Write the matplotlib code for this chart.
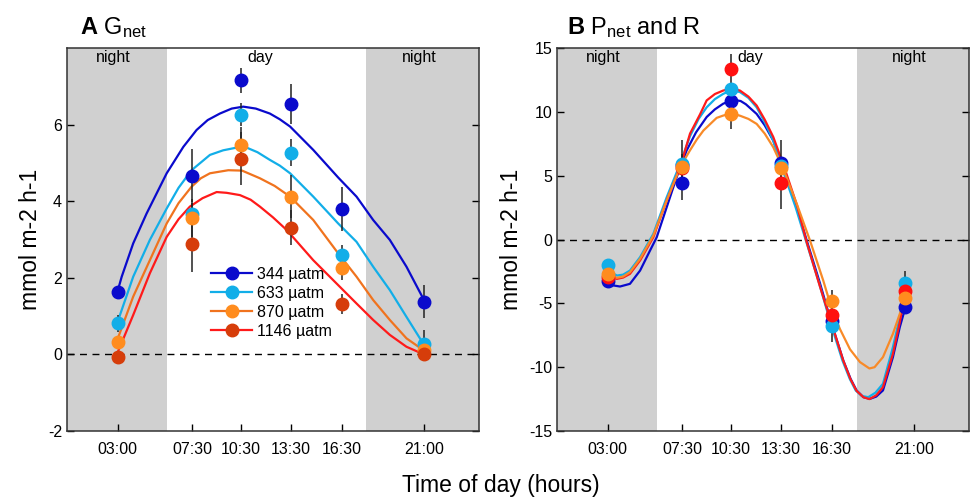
import numpy as np
import matplotlib
matplotlib.use("Agg")
import matplotlib.pyplot as plt
from matplotlib.lines import Line2D

plt.rcParams.update({
    "font.family": "Liberation Sans", "font.size": 11.5,
    "mathtext.fontset": "custom", "mathtext.rm": "Liberation Sans",
    "mathtext.bf": "Liberation Sans:bold", "mathtext.it": "Liberation Sans:italic",
    "xtick.direction": "in", "ytick.direction": "in", "axes.unicode_minus": False,
    "xtick.major.size": 5, "ytick.major.size": 5, "axes.linewidth": 1.1,
})

BLUE, CYAN, GREY = "#0A0ACC", "#12AEE8", "#D0D0D0"
OR_LINE_A, OR_LINE_B, OR_MK = "#F0731E", "#F88A28", "#FF8C1E"
RED_LINE, RED_MK_A, RED_MK_B = "#FF1A1A", "#D63D0A", "#FF1010"

labels = ["344 µatm", "633 µatm", "870 µatm", "1146 µatm"]
tick_pos = [2.95, 7.3, 10.13, 13.03, 16.0, 20.8]
tick_lab = ["03:00", "07:30", "10:30", "13:30", "16:30", "21:00"]
night_end, night_start = 5.8, 17.45

# ---- panel A: Gnet, measured points (mean, error) ----
tA = [2.95, 7.3, 10.13, 13.03, 16.0, 20.8]
gA_344 = [1.62, 4.67, 7.16, 6.54, 3.79, 1.38]
gA_633 = [0.81, 3.66, 6.26, 5.27, 2.59, 0.27]
gA_870 = [0.32, 3.57, 5.47, 4.12, 2.25, 0.12]
gA_1146 = [-0.06, 2.88, 5.11, 3.31, 1.32, 0.0]
eA_344 = [0.1, 0.7, 0.33, 0.53, 0.57, 0.42]
eA_633 = [0.22, 0.3, 0.3, 0.35, 0.27, 0.38]
eA_870 = [0.1, 0.5, 0.48, 0.56, 0.3, 0.1]
eA_1146 = [0.1, 0.72, 0.69, 0.45, 0.27, 0.1]

# panel A fitted curves
cA_344_t = [2.95, 3.19, 3.86, 4.64, 5.81, 6.78, 7.55, 8.2, 8.91, 9.6, 10.27, 11.0, 11.82, 12.4, 13.0, 14.35, 15.8, 16.87, 17.84, 18.81, 19.78, 20.8]
cA_344_v = [1.65, 2.03, 2.90, 3.68, 4.73, 5.42, 5.86, 6.12, 6.29, 6.42, 6.47, 6.42, 6.29, 6.14, 5.95, 5.34, 4.62, 4.12, 3.51, 2.99, 2.29, 1.42]
cA_633_t = [2.95, 3.86, 4.83, 5.81, 6.5, 7.26, 8.33, 9.1, 9.88, 10.47, 11.1, 11.82, 12.4, 13.0, 14.35, 15.8, 16.87, 17.84, 18.81, 19.78, 20.8]
cA_633_v = [0.85, 2.03, 2.99, 3.81, 4.35, 4.81, 5.21, 5.33, 5.40, 5.40, 5.28, 5.08, 4.93, 4.73, 4.12, 3.42, 2.94, 2.29, 1.68, 0.98, 0.25]
cA_870_t = [2.95, 3.86, 4.83, 5.81, 6.5, 7.26, 7.8, 8.33, 9.4, 10.2, 11.24, 12.1, 13.0, 14.35, 15.8, 16.87, 17.84, 18.81, 19.78, 20.8]
cA_870_v = [0.40, 1.51, 2.46, 3.42, 3.95, 4.38, 4.60, 4.73, 4.81, 4.80, 4.60, 4.40, 4.12, 3.51, 2.64, 2.03, 1.42, 0.90, 0.42, 0.10]
cA_1146_t = [2.95, 3.86, 4.83, 5.81, 6.5, 7.16, 7.9, 8.72, 9.3, 10.08, 10.7, 11.24, 12.0, 12.8, 14.35, 15.8, 16.87, 17.84, 18.81, 19.78, 20.8]
cA_1146_v = [0.05, 1.03, 2.12, 3.07, 3.53, 3.86, 4.08, 4.24, 4.22, 4.16, 4.04, 3.86, 3.58, 3.25, 2.46, 1.81, 1.33, 0.90, 0.51, 0.20, 0.0]

# ---- panel B: Pnet and R, measured points ----
tB = [2.95, 7.3, 10.13, 13.03, 16.0, 20.3]
tB_344 = [2.95, 7.3, 7.3, 10.13, 13.03, 16.0, 20.3]
pB_344 = [-3.21, 5.87, 4.41, 10.88, 5.98, -6.42, -5.30]
pB_633 = [-1.98, 5.9, 11.80, 5.75, -6.81, -3.37]
pB_870 = [-2.69, 5.7, 9.84, 5.59, -4.78, -4.59]
pB_1146 = [-2.9, 5.58, 13.37, 4.41, -5.95, -4.05]
eB_344 = [0.2, 1.94, 1.3, 0.3, 1.8, 0.5, 0.3]
eB_633 = [0.3, 0.8, 0.5, 0.5, 1.2, 0.9]
eB_870 = [0.2, 0.8, 1.17, 0.5, 0.85, 0.3]
eB_1146 = [0.2, 0.8, 1.2, 2.0, 0.5, 0.3]

cB_344_t = [2.95, 3.3, 3.67, 4.25, 4.84, 5.42, 5.81, 6.39, 6.97, 7.55, 8.1, 8.72, 9.2, 9.68, 10.27, 10.7, 11.0, 11.63, 12.1, 12.6, 13.0, 13.97, 14.55, 15.33, 16.0, 16.68, 17.1, 17.45, 17.85, 18.23, 18.6, 18.99, 19.57, 19.97, 20.3]
cB_344_v = [-3.21, -3.6, -3.68, -3.47, -2.43, -0.86, 0.18, 2.53, 4.88, 6.97, 8.4, 9.6, 10.2, 10.64, 10.95, 10.85, 10.6, 9.84, 8.95, 7.75, 6.2, 2.53, -0.08, -3.47, -6.6, -9.48, -10.9, -11.82, -12.35, -12.48, -12.3, -11.82, -9.21, -6.86, -5.3]
cB_633_t = [2.95, 3.2, 3.49, 3.85, 4.25, 4.84, 5.61, 6.39, 7.17, 7.75, 8.25, 8.72, 9.2, 9.68, 10.17, 10.66, 11.15, 11.63, 12.1, 12.6, 13.06, 13.9, 14.5, 15.28, 15.95, 16.63, 17.05, 17.4, 17.75, 18.13, 18.55, 18.99, 19.57, 19.97, 20.3]
cB_633_v = [-2.17, -2.6, -2.82, -2.75, -2.43, -1.38, 0.44, 3.31, 5.92, 8.1, 9.45, 10.36, 11.0, 11.41, 11.7, 11.55, 11.1, 10.36, 9.2, 7.75, 5.8, 2.53, -0.08, -3.47, -6.6, -9.48, -10.9, -11.82, -12.25, -12.35, -12.0, -11.3, -8.43, -6.08, -3.37]
cB_870_t = [2.95, 3.2, 3.49, 3.85, 4.25, 4.84, 5.61, 6.39, 7.17, 7.74, 8.15, 8.53, 9.3, 9.68, 10.17, 10.66, 11.15, 11.63, 12.1, 12.6, 13.18, 13.97, 14.74, 15.51, 16.0, 16.48, 17.07, 17.65, 18.2, 18.5, 18.99, 19.57, 19.97, 20.3]
cB_870_v = [-2.69, -2.9, -3.0, -2.9, -2.56, -1.51, 0.31, 3.05, 5.66, 6.97, 7.85, 8.54, 9.53, 9.71, 9.89, 9.7, 9.45, 9.06, 8.3, 7.23, 5.53, 2.79, -0.08, -3.21, -5.4, -7.0, -8.6, -9.6, -10.1, -10.0, -9.21, -7.38, -5.82, -4.6]
cB_1146_t = [2.95, 3.2, 3.49, 3.85, 4.25, 4.84, 5.61, 6.39, 7.17, 7.75, 8.33, 8.72, 9.2, 9.68, 10.2, 10.66, 11.15, 11.63, 12.1, 12.6, 13.18, 14.0, 14.5, 15.3, 16.0, 16.68, 17.1, 17.45, 17.85, 18.2, 18.6, 18.99, 19.57, 19.97, 20.3]
cB_1146_v = [-2.85, -3.0, -3.08, -2.98, -2.69, -1.64, 0.18, 3.05, 5.66, 8.3, 9.8, 10.9, 11.4, 11.67, 11.85, 11.67, 11.2, 10.5, 9.4, 8.03, 5.9, 2.6, 0.0, -3.6, -6.6, -9.5, -10.95, -11.85, -12.35, -12.5, -12.2, -11.56, -8.95, -6.47, -4.05]

fig = plt.figure(figsize=(9.76, 4.98), dpi=100)
axA = fig.add_axes([0.0686, 0.1345, 0.4221, 0.769])
axB = fig.add_axes([0.5707, 0.1345, 0.4221, 0.769])


def frame(ax, ylim, yticks):
    ax.set_xlim(0, 24)
    ax.set_ylim(*ylim)
    ax.axvspan(0, night_end, color=GREY, lw=0, zorder=0)
    ax.axvspan(night_start, 24, color=GREY, lw=0, zorder=0)
    ax.axhline(0, color="black", lw=1, ls=(0, (5, 4)), zorder=1)
    ax.set_xticks(tick_pos)
    ax.set_xticklabels(tick_lab)
    ax.set_yticks(yticks)
    ax.tick_params(axis="y", left=True, right=True, labelsize=11.5, width=1)
    ax.tick_params(axis="x", top=False, labelsize=11.5, pad=8, width=1)
    for s in ax.spines.values():
        s.set_color("#333333")
    tr = ax.get_xaxis_transform()
    ax.text(2.68, 0.976, "night", transform=tr, ha="center", va="center", fontsize=11.5)
    ax.text(11.24, 0.976, "day", transform=tr, ha="center", va="center", fontsize=11.5)
    ax.text(20.55, 0.976, "night", transform=tr, ha="center", va="center", fontsize=11.5)
    ax.set_ylabel("mmol m-2 h-1", fontsize=16.5)


def series(ax, ct, cv, t, v, e, lc, mc, z):
    ax.plot(ct, cv, color=lc, lw=1.6, solid_joinstyle="round", zorder=2 + z * 0.01)
    t, v, e = np.array(t), np.array(v), np.array(e)
    ax.vlines(t, v - e, v + e, color="#222222", lw=1.1, zorder=3)
    ax.plot(t, v, "o", color=mc, ms=9, mec=mc, zorder=4 + z * 0.01)


# panel A
frame(axA, (-2, 8), [-2, 0, 2, 4, 6])
series(axA, cA_344_t, cA_344_v, tA, gA_344, eA_344, BLUE, BLUE, 1)
series(axA, cA_633_t, cA_633_v, tA, gA_633, eA_633, CYAN, CYAN, 2)
series(axA, cA_870_t, cA_870_v, tA, gA_870, eA_870, OR_LINE_A, OR_MK, 3)
series(axA, cA_1146_t, cA_1146_v, tA, gA_1146, eA_1146, RED_LINE, RED_MK_A, 4)
handles = [Line2D([], [], color=lc, lw=1.6, marker="o", ms=9, mfc=mc, mec=mc)
           for lc, mc in [(BLUE, BLUE), (CYAN, CYAN), (OR_LINE_A, OR_MK), (RED_LINE, RED_MK_A)]]
axA.legend(handles, labels, loc="upper left", bbox_to_anchor=(0.33, 0.45), frameon=False,
           fontsize=11.5, handlelength=2.6, handletextpad=0.3, labelspacing=0.25, borderpad=0)

# panel B
frame(axB, (-15, 15), [-15, -10, -5, 0, 5, 10, 15])
series(axB, cB_344_t, cB_344_v, tB_344, pB_344, eB_344, BLUE, BLUE, 1)
series(axB, cB_633_t, cB_633_v, tB, pB_633, eB_633, CYAN, CYAN, 2)
series(axB, cB_1146_t, cB_1146_v, tB, pB_1146, eB_1146, RED_LINE, RED_MK_B, 3)
series(axB, cB_870_t, cB_870_v, tB, pB_870, eB_870, OR_LINE_B, OR_MK, 4)

fig.text(0.082, 0.932, r"$\mathbf{A}$ G$_{\mathrm{net}}$", fontsize=17, va="baseline")
fig.text(0.581, 0.932, r"$\mathbf{B}$ P$_{\mathrm{net}}$ and R", fontsize=17, va="baseline")
fig.text(0.513, 0.026, "Time of day (hours)", ha="center", va="center", fontsize=16.5)

fig.savefig("out.png", dpi=100)
